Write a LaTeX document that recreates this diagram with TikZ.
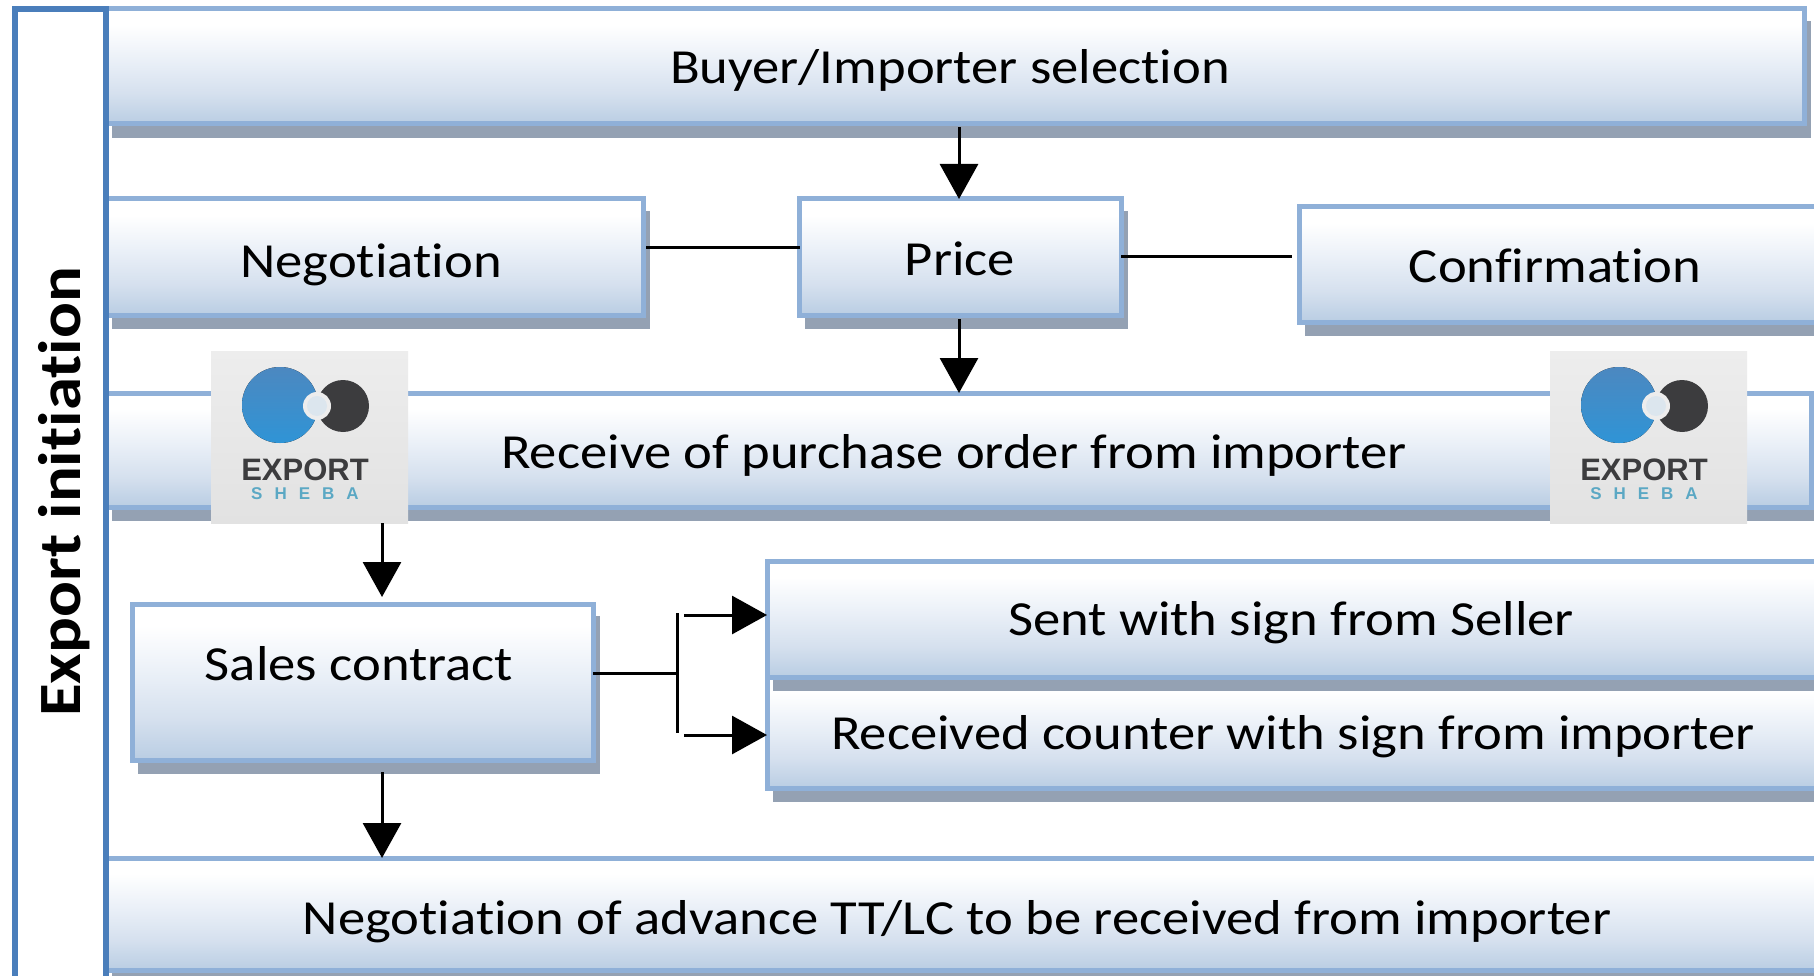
\documentclass[tikz,border=0pt]{standalone}
\usepackage{fontspec}
\setmainfont{Carlito}[Ligatures=NoCommon,FakeStretch=1.115]
\newfontfamily\logofont{Liberation Sans}
\usetikzlibrary{arrows.meta}
\definecolor{boxline}{HTML}{8FB0D8}
\definecolor{boxend}{HTML}{B9CDE3}
\definecolor{boxmid}{HTML}{E9EFF7}
\definecolor{boxlow}{HTML}{D5E0EE}
\definecolor{shadowc}{HTML}{94A1B3}
\definecolor{panel}{HTML}{4A7EBB}
\definecolor{logobg}{HTML}{EDEDED}
\definecolor{logolow}{HTML}{E2E2E2}
\definecolor{logoblue}{HTML}{3D8FCB}
\definecolor{logobluetop}{HTML}{4C88C0}
\definecolor{logobluelow}{HTML}{2F94D6}
\definecolor{logodark}{HTML}{3C3C3E}
\definecolor{logoteal}{HTML}{5BA8C4}
\definecolor{logohole}{HTML}{DCE6EE}
\pgfdeclareverticalshading{boxshade}{100bp}{color(0bp)=(boxend); color(25bp)=(boxend); color(38bp)=(boxlow); color(52bp)=(boxmid); color(68bp)=(white); color(100bp)=(white)}
\tikzset{
  flowbox/.style={draw=boxline,line width=5pt,shading=boxshade,outer sep=0pt,inner sep=0pt},
  link/.style={draw=black,line width=3pt},
  flow/.style={link,-{Triangle[length=35pt,width=38pt]}},
  lbl/.style={font=\fontsize{49}{52}\selectfont,inner sep=0pt,anchor=base},
}
\newcommand{\flowrect}[5]{% name, x0, y0, x1, y1
  \fill[shadowc] (#2+6,#3+12) rectangle (#4+7,#5+14);
  \node[flowbox,minimum width=#4-#2,minimum height=#5-#3] (#1) at ({(#2+#4)/2},{(#3+#5)/2}) {};
}
\newcommand{\logomark}[2]{% name, x shift
  \begin{scope}[xshift=#2pt]
    \node[top color=logobg,bottom color=logolow,minimum width=197pt,minimum height=172pt,inner sep=0pt,outer sep=0pt] (#1) at (309.5,437) {};
    \fill[top color=logobluetop,bottom color=logobluelow] (280,405) circle (38);
    \fill[logodark] (343,406) circle (26);
    \fill[logobg] (317,406) circle (14);
    \fill[logohole] (317,406) circle (10);
    \node[font=\logofont\bfseries\fontsize{31}{31}\selectfont,text=logodark,inner sep=0pt] (#1t) at (305,470) {EXPORT};
    \node[font=\logofont\bfseries\fontsize{17}{17}\selectfont,text=logoteal,inner sep=0pt] (#1s) at (305,494) {S\hspace{12pt}H\hspace{12pt}E\hspace{12pt}B\hspace{12pt}A};
  \end{scope}
}
\begin{document}
\begin{tikzpicture}[x=1pt,y=-1pt]
\useasboundingbox (0,0) rectangle (1814,976);
\fill[white] (0,0) rectangle (1814,976);
% left panel
\node[draw=panel,line width=6pt,fill=white,minimum width=91pt,minimum height=1000pt,inner sep=0pt,outer sep=0pt,anchor=north west] (panel) at (15,9) {};
\node[rotate=90,font=\bfseries\fontsize{60}{62}\selectfont,inner sep=0pt] (paneltext) at (64,492) {Export initiation};
% boxes
\flowrect{buyer}{106}{9}{1804}{124}
\flowrect{neg}{106}{199}{643}{315}
\flowrect{price}{799}{199}{1121}{315}
\flowrect{conf}{1299}{207}{1840}{322}
\flowrect{order}{106}{393}{1811}{507}
\flowrect{sales}{132}{604}{593}{760}
\flowrect{recv}{767}{677}{1840}{788}
\flowrect{sent}{767}{561}{1840}{677}
\flowrect{adv}{106}{858}{1840}{970}
% panel edges on top
\draw[panel,line width=6pt] (panel.north west) -- (panel.north east) -- (panel.south east);
\draw[panel,line width=6pt] (panel.north west) -- (panel.south west);
% texts
\node[lbl] (t1) at (950,84) {Buyer/Importer selection};
\node[lbl] (t2) at (371,277) {Negotiation};
\node[lbl] (t3) at (960,276) {Price};
\node[lbl] (t4) at (1555,283) {Confirmation};
\node[lbl] (t5) at (954,468) {Receive of purchase order from importer};
\node[lbl] (t6) at (359,680) {Sales contract};
\node[lbl] (t7) at (1291,635) {Sent with sign from Seller};
\node[lbl] (t8) at (1293,749) {Received counter with sign from importer};
\node[lbl] (t9) at (957,934) {Negotiation of advance TT/LC to be received from importer};
% logos
\logomark{logoa}{0}
\logomark{logob}{1339}
% connectors
\coordinate (a1) at (959,127);
\draw[flow] (a1) -- (a1 |- price.north);
\draw[link,shorten <=3pt,shorten >=-1pt] ([yshift=9pt]neg.east) -- ([yshift=9pt]price.west);
\draw[link,shorten >=7pt] (price.east) -- (price.east -| conf.west);
\coordinate (a2) at (959,319);
\draw[flow] (a2) -- (a2 |- order.north);
\coordinate (a3) at (382,523);
\draw[flow,shorten >=7pt] (a3) -- (a3 |- sales.north);
\coordinate (a4) at (382,772);
\draw[flow] (a4) -- (a4 |- adv.north);
\coordinate (j) at (677,673);
\coordinate (ja) at (677,613);
\coordinate (jb) at (677,733);
\coordinate (s1) at (684,615);
\coordinate (s2) at (684,735);
\draw[link] (sales.east |- j) -- (j);
\draw[link] (ja) -- (jb);
\draw[flow] (s1) -- (s1 -| sent.west);
\draw[flow] (s2) -- (s2 -| recv.west);
\end{tikzpicture}
\end{document}
